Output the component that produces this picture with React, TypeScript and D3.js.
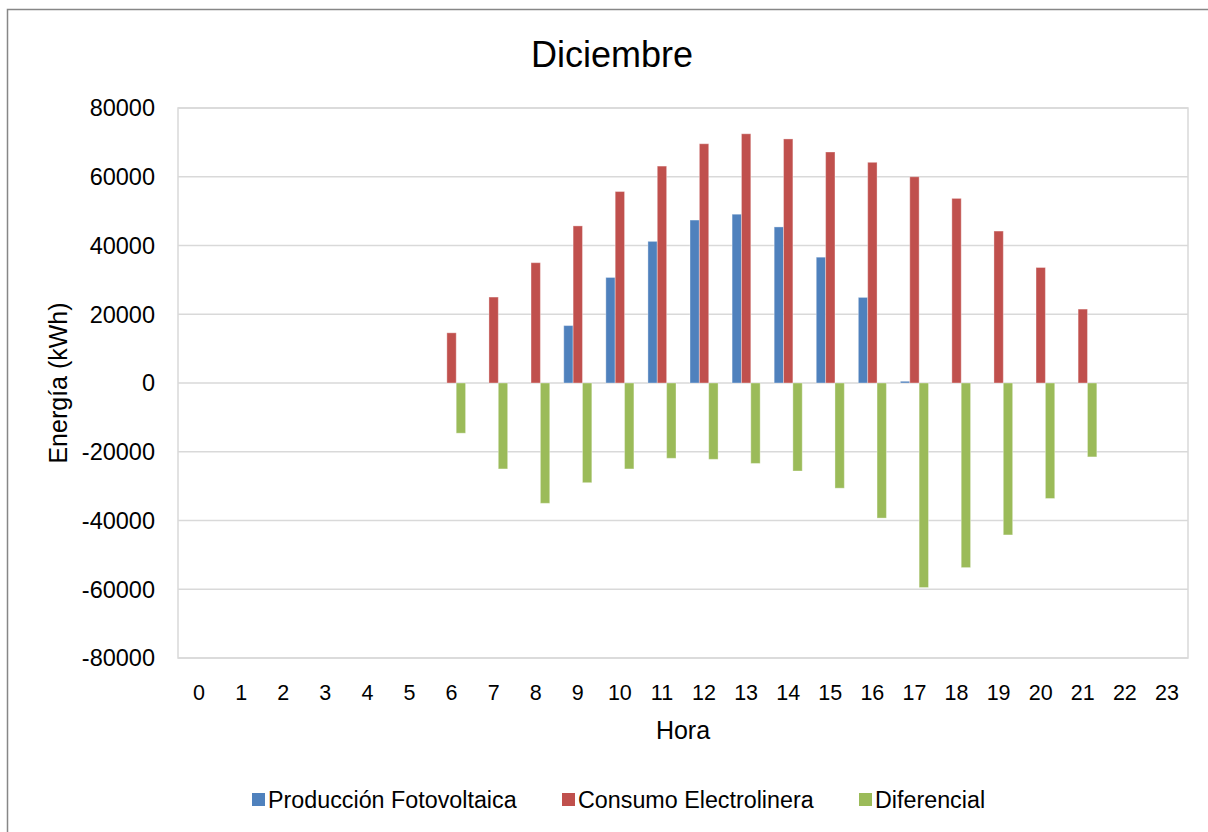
import React from "react";
import * as d3 from "d3";

const hours = ["0","1","2","3","4","5","6","7","8","9","10","11","12","13","14","15","16","17","18","19","20","21","22","23"];
const produccion = [0,0,0,0,0,0,0,0,0,16700,30700,41200,47400,49100,45400,36600,24900,500,0,0,0,0,0,0];
const consumo = [0,0,0,0,0,0,14600,25000,35000,45700,55700,63100,69600,72500,71000,67200,64200,60000,53700,44200,33600,21500,0,0];
const diferencial = [0,0,0,0,0,0,-14600,-25000,-35000,-29000,-25000,-21900,-22200,-23400,-25600,-30600,-39300,-59500,-53700,-44200,-33600,-21500,0,0];
const yTicks = [80000,60000,40000,20000,0,-20000,-40000,-60000,-80000];
const seriesNames = ["Producción Fotovoltaica","Consumo Electrolinera","Diferencial"];
const seriesColors = ["#4F81BD","#C0504D","#9BBB59"];

const W = 1208, H = 832;
const plot = { left: 178, right: 1188, top: 108, bottom: 658 };
const FONT = "'Liberation Sans', Arial, sans-serif";

export default function App() {
  const series = [produccion, consumo, diferencial];
  const x = d3.scaleBand<string>().domain(hours).range([plot.left, plot.right]).paddingInner(0).paddingOuter(0);
  const cw = x.bandwidth();
  const bw = cw / 4.5;
  const xs = d3.scaleBand<number>().domain([0,1,2]).range([(cw - 3*bw)/2, (cw + 3*bw)/2]).padding(0);
  const y = d3.scaleLinear().domain([-80000, 80000]).range([plot.bottom, plot.top]);
  const legendX = [252, 562, 859];

  return (
    <svg width={W} height={H} style={{ position: "absolute", left: 0, top: 0, background: "#fff" }} fontFamily={FONT}>
      <rect x={0} y={0} width={W} height={H} fill="#fff" />
      <rect x={7.5} y={9.5} width={1400} height={1000} fill="none" stroke="#878787" strokeWidth={1.5} />
      <text x={612} y={67} textAnchor="middle" fontSize={36} fill="#000">Diciembre</text>
      {yTicks.map((t) => (
        <line key={"g"+t} x1={plot.left} x2={plot.right} y1={y(t)} y2={y(t)} stroke="#d9d9d9" strokeWidth={1.5} />
      ))}
      <rect x={plot.left} y={plot.top} width={plot.right-plot.left} height={plot.bottom-plot.top} fill="none" stroke="#d9d9d9" strokeWidth={1.5} />
      {series.map((vals, si) => (
        <g key={"s"+si}>
          {vals.map((v, i) => {
            if (v === 0) return null;
            const x0 = (x(hours[i]) as number) + (xs(si) as number);
            const y0 = Math.min(y(v), y(0));
            const h = Math.abs(y(v) - y(0));
            return <rect key={i} x={x0} y={y0} width={bw} height={Math.max(h, 0.8)} fill={seriesColors[si]} stroke="#ffffff" strokeOpacity={0.35} strokeWidth={1} />;
          })}
        </g>
      ))}
      {yTicks.map((t) => (
        <text key={"yl"+t} x={155} y={y(t)} dy="0.36em" textAnchor="end" fontSize={23.5} fill="#000">{t}</text>
      ))}
      {hours.map((h) => (
        <text key={"xl"+h} x={(x(h) as number) + cw/2} y={699.5} textAnchor="middle" fontSize={21.5} fill="#000">{h}</text>
      ))}
      <text x={(plot.left+plot.right)/2} y={739} textAnchor="middle" fontSize={25} fill="#000">Hora</text>
      <text transform={`translate(67,${(plot.top+plot.bottom)/2}) rotate(-90)`} textAnchor="middle" fontSize={25} fill="#000">Energía (kWh)</text>
      {seriesNames.map((n, i) => (
        <g key={"lg"+i}>
          <rect x={legendX[i]} y={793} width={13} height={13} fill={seriesColors[i]} />
          <text x={legendX[i] + 16} y={808} fontSize={23.3} fill="#000">{n}</text>
        </g>
      ))}
    </svg>
  );
}
